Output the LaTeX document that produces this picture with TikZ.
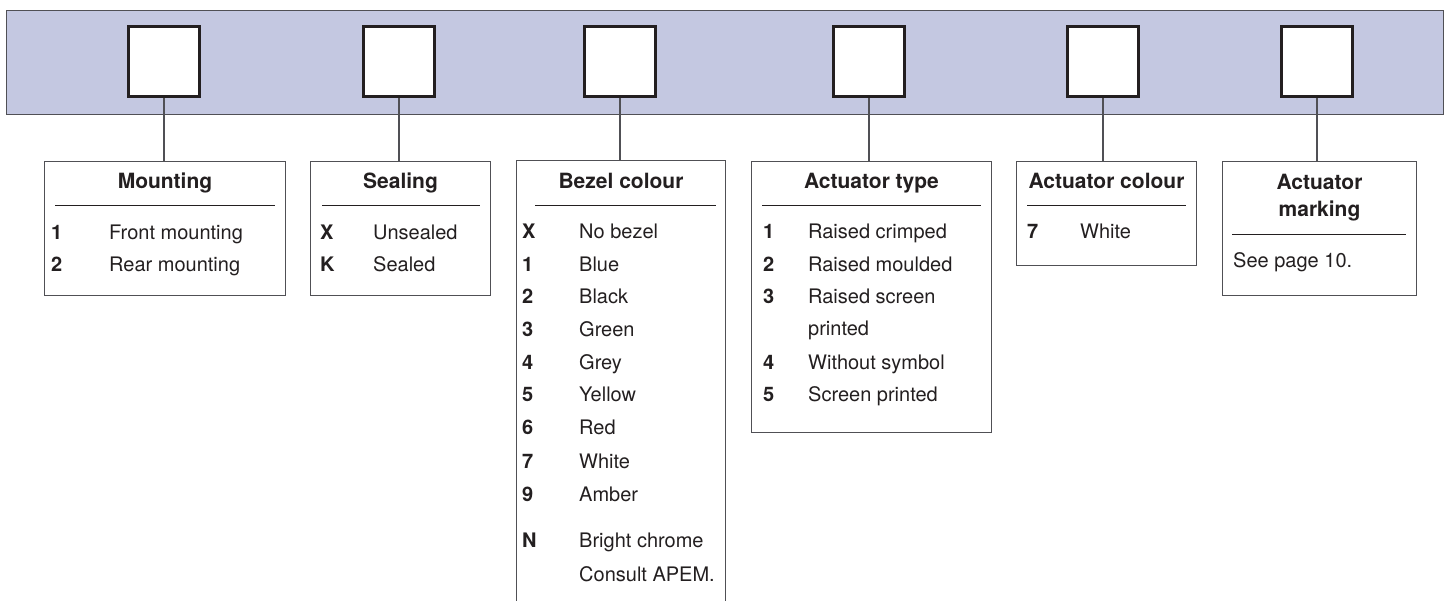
\documentclass[tikz,border=0pt]{standalone}
\usepackage{fontspec}
\setmainfont{TeX Gyre Heros}
\definecolor{bandfill}{RGB}{196,200,225}
\definecolor{ink}{RGB}{35,31,32}
\definecolor{edge}{RGB}{80,80,85}
\begin{document}
\begin{tikzpicture}[x=1pt,y=-1pt,
  bandbox/.style={draw=edge, line width=1.2pt, fill=bandfill, inner sep=0, minimum width=1437pt, minimum height=104pt},
  slot/.style={draw=ink, line width=2.6pt, fill=white, inner sep=0, minimum width=71.5pt, minimum height=70.5pt},
  legend/.style={draw=edge, line width=1.2pt, inner sep=0},
  legendline/.style={draw=edge, line width=1.2pt},
  rulel/.style={draw=ink, line width=1pt},
  link/.style={draw=edge, line width=1.1pt},
  title/.style={font=\fontsize{21}{26}\selectfont\bfseries, text=ink, anchor=base, inner sep=0},
  num/.style={font=\fontsize{20}{24}\selectfont\bfseries, text=ink, anchor=base west, inner sep=0},
  item/.style={font=\fontsize{20}{24}\selectfont, text=ink, anchor=base west, inner sep=0}]
\useasboundingbox (0,0) rectangle (1449,601);

% band and slots
\node[bandbox] (band) at (725,62.5) {};
\node[slot] (s1) at (164,61.5) {};
\node[slot] (s2) at (399,61.5) {};
\node[slot] (s3) at (620,61.5) {};
\node[slot] (s4) at (869,61.5) {};
\node[slot] (s5) at (1103,61.5) {};
\node[slot] (s6) at (1317,61.5) {};

% legend boxes
\node[legend, minimum width=241pt, minimum height=134pt] (mount) at (165,228.5) {};
\node[legend, minimum width=180pt, minimum height=134pt] (seal) at (400.5,228.5) {};
\node[inner sep=0, minimum width=209pt, minimum height=460pt] (bezel) at (621,391) {};
\draw[legendline] (bezel.south west) -- (bezel.north west) -- (bezel.north east) -- (bezel.south east);
\node[legend, minimum width=240pt, minimum height=271pt] (type) at (871.5,297) {};
\node[legend, minimum width=180pt, minimum height=104pt] (colour) at (1106.5,213.5) {};
\node[legend, minimum width=194pt, minimum height=134pt] (mark) at (1319.5,228.5) {};

% connectors
\draw[link] (s1.south) -- (s1.south |- mount.north);
\draw[link] (s2.south) -- (s2.south |- seal.north);
\draw[link] (s3.south) -- (s3.south |- bezel.north);
\draw[link] (s4.south) -- (s4.south |- type.north);
\draw[link] (s5.south) -- (s5.south |- colour.north);
\draw[link] (s6.south) -- (s6.south |- mark.north);

% header rules
\draw[rulel] (55,206) -- (275,206);
\draw[rulel] (322,206) -- (480,206);
\draw[rulel] (535,206) -- (716,206);
\draw[rulel] (762,206) -- (981,206);
\draw[rulel] (1027,206) -- (1186,206);
\draw[rulel] (1232,235) -- (1406,235);

% titles
\node[title] (tmount) at (165,189) {Mounting};
\node[title] (tseal) at (400.5,189) {Sealing};
\node[title] (tbezel) at (621,189) {Bezel colour};
\node[title] (ttype) at (871.5,189) {Actuator type};
\node[title] (tcolour) at (1106.5,189) {Actuator colour};
\node[title] (tmarka) at (1319.5,190) {Actuator};
\node[title] (tmarkb) at (1319.5,217) {marking};

% Mounting
\node[num] (m1n) at (51,240) {1};
\node[item] (m1t) at (109,240) {Front mounting};
\node[num] (m2n) at (51,272) {2};
\node[item] (m2t) at (109,272) {Rear mounting};

% Sealing
\node[num] (sXn) at (320,240) {X};
\node[item] (sXt) at (373,240) {Unsealed};
\node[num] (sKn) at (320,272) {K};
\node[item] (sKt) at (373,272) {Sealed};

% Bezel colour
\node[num] (bXn) at (522,239) {X};
\node[item] (bXt) at (579,239) {No bezel};
\node[num] (b1n) at (522,272) {1};
\node[item] (b1t) at (579,272) {Blue};
\node[num] (b2n) at (522,304) {2};
\node[item] (b2t) at (579,304) {Black};
\node[num] (b3n) at (522,337) {3};
\node[item] (b3t) at (579,337) {Green};
\node[num] (b4n) at (522,370) {4};
\node[item] (b4t) at (579,370) {Grey};
\node[num] (b5n) at (522,402) {5};
\node[item] (b5t) at (579,402) {Yellow};
\node[num] (b6n) at (522,435) {6};
\node[item] (b6t) at (579,435) {Red};
\node[num] (b7n) at (522,468) {7};
\node[item] (b7t) at (579,468) {White};
\node[num] (b9n) at (522,501) {9};
\node[item] (b9t) at (579,501) {Amber};
\node[num] (bNn) at (522,547) {N};
\node[item] (bNt) at (579,547) {Bright chrome};
\node[item] (bNu) at (579,581) {Consult APEM.};

% Actuator type
\node[num] (t1n) at (763,239) {1};
\node[item] (t1t) at (808,239) {Raised crimped};
\node[num] (t2n) at (763,272) {2};
\node[item] (t2t) at (808,272) {Raised moulded};
\node[num] (t3n) at (763,304) {3};
\node[item] (t3t) at (808,304) {Raised screen};
\node[item] (t3u) at (808,336) {printed};
\node[num] (t4n) at (763,370) {4};
\node[item] (t4t) at (808,370) {Without symbol};
\node[num] (t5n) at (763,402) {5};
\node[item] (t5t) at (808,402) {Screen printed};

% Actuator colour
\node[num] (c7n) at (1027,239) {7};
\node[item] (c7t) at (1080,239) {White};

% Actuator marking
\node[item] (mkt) at (1233,268) {See page 10.};
\end{tikzpicture}
\end{document}
